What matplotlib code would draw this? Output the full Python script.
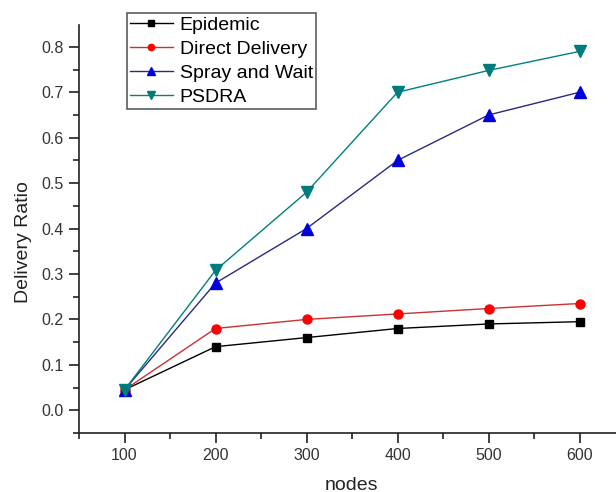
import matplotlib
matplotlib.use("Agg")
import matplotlib.pyplot as plt
from matplotlib.ticker import MultipleLocator

plt.rcParams['font.family'] = ['Liberation Sans', 'DejaVu Sans']

nodes = [100, 200, 300, 400, 500, 600]
epidemic = [0.045, 0.14, 0.16, 0.18, 0.19, 0.195]
direct = [0.045, 0.18, 0.20, 0.212, 0.224, 0.235]
spray = [0.045, 0.28, 0.40, 0.55, 0.65, 0.70]
psdra = [0.045, 0.308, 0.48, 0.70, 0.748, 0.79]
yticks = [0.0, 0.1, 0.2, 0.3, 0.4, 0.5, 0.6, 0.7, 0.8]
xticks = [100, 200, 300, 400, 500, 600]

fig = plt.figure(figsize=(6.16, 4.92), dpi=100)
ax = fig.add_axes([79/616, 1-433/492, 1-79/616, (433-25)/492])

ax.plot(nodes, epidemic, color='black', lw=1.0, marker='s', ms=6, mfc='black', mec='black', label='Epidemic')
ax.plot(nodes, direct, color='#c83232', lw=1.0, marker='o', ms=6.5, mfc='red', mec='red', label='Direct Delivery')
ax.plot(nodes, spray, color='#2a2a80', lw=1.0, marker='^', ms=8, mfc='#0000dd', mec='#0000dd', label='Spray and Wait')
ax.plot(nodes, psdra, color='#008080', lw=1.0, marker='v', ms=8, mfc='#007b7b', mec='#007b7b', label='PSDRA')

ax.set_xlim(50, 640)
ax.set_ylim(-0.05, 0.848)
ax.set_xticks(xticks)
ax.set_yticks(yticks)
ax.set_yticklabels([f"{v:.1f}" for v in yticks])
ax.xaxis.set_minor_locator(MultipleLocator(50))
ax.yaxis.set_minor_locator(MultipleLocator(0.05))
ax.tick_params(which='major', direction='out', length=7, width=1.2, labelsize=11.5, colors='#222222', pad=4)
ax.tick_params(which='minor', direction='out', length=4, width=1.2, colors='#222222')
ax.tick_params(axis='y', which='major', labelcolor='#333333')
ax.tick_params(axis='x', which='major', labelcolor='#333333')
for s in ['top', 'right']:
    ax.spines[s].set_visible(False)
for s in ['left', 'bottom']:
    ax.spines[s].set_linewidth(1.2)
    ax.spines[s].set_color('#222222')

ax.set_xlabel('nodes', fontsize=14, color='#222222')
ax.set_ylabel('Delivery Ratio', fontsize=14, color='#222222')
ax.xaxis.set_label_coords((351-79)/(616-79), -(485-433)/408, transform=ax.transAxes)
ax.yaxis.set_label_coords(-(79-24)/537, (433-242)/408, transform=ax.transAxes)
ax.xaxis.label.set_va('center')
ax.yaxis.label.set_va('center')

leg = fig.legend(loc='upper left', bbox_to_anchor=(127/616, 1-13/492), fontsize=14,
                 frameon=True, fancybox=False, handlelength=2.2, handletextpad=0.35,
                 labelspacing=0.33, borderpad=0.15, borderaxespad=0, markerscale=0.7)
leg.get_frame().set_edgecolor('#333333')
leg.get_frame().set_linewidth(1.2)

fig.savefig('out.png', dpi=100)
